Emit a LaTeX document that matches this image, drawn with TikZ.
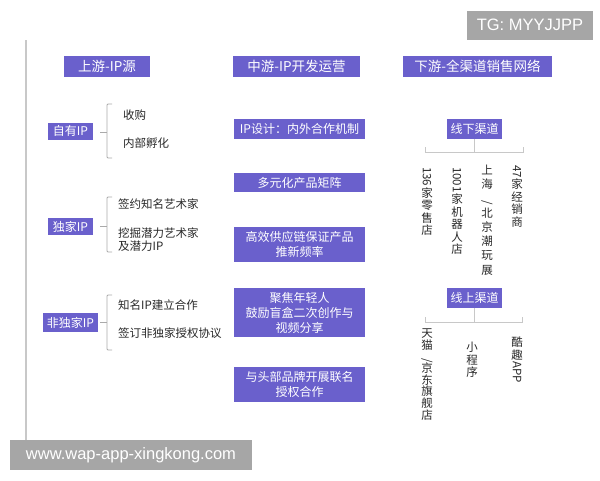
\documentclass[tikz,border=0pt]{standalone}
\usepackage{fontspec}
\setmainfont{Noto Sans CJK SC}
\newfontfamily\wmfont{Liberation Sans}
\definecolor{boxc}{RGB}{106,96,204}
\definecolor{wmgray}{RGB}{166,166,166}
\definecolor{linec}{RGB}{200,200,200}
\definecolor{brk}{RGB}{170,170,170}
\definecolor{txt}{RGB}{40,40,40}
\tikzset{
  pbox/.style={fill=boxc, text=white, inner sep=1pt, align=center,
    font=\fontsize{12}{15}\selectfont},
  hbox/.style={pbox, font=\fontsize{13.5}{15}\selectfont},
  item/.style={anchor=west, inner sep=0, text=txt, align=left,
    font=\fontsize{11.5}{13}\selectfont},
  vcol/.style={anchor=north, inner sep=0, text=txt, align=center,
    font=\fontsize{11.5}{12.5}\selectfont},
  brline/.style={draw=brk, line width=0.8pt},
  tline/.style={draw=linec, line width=0.9pt},
  wm/.style={fill=wmgray, text=white, inner sep=0, font=\wmfont\fontsize{16.5}{18}\selectfont}
}
\newsavebox{\rotbx}
\newcommand{\rb}[1]{\sbox{\rotbx}{\rotatebox{-90}{#1}}\raisebox{\dimexpr\dp\rotbx-1.5pt\relax}{\usebox{\rotbx}}}
\begin{document}
\begin{tikzpicture}[x=1pt,y=-1pt]
\useasboundingbox (0,0) rectangle (600,480);
\fill[white] (0,0) rectangle (600,480);
% left rule
\coordinate (rt) at (26,40);
\coordinate (rb) at (26,445);
\draw[draw=linec, line width=1.2pt] (rt) -- (rb);

% headers
\node[hbox, minimum width=86pt, minimum height=21pt] (h1) at (107,66.5) {上游-IP源};
\node[hbox, minimum width=127pt, minimum height=21pt] (h2) at (296.5,66.5) {中游-IP开发运营};
\node[hbox, minimum width=149pt, minimum height=21pt] (h3) at (477.5,66.5) {下游-全渠道销售网络};

% left column
\node[pbox, minimum width=45pt, minimum height=17pt] (zy) at (70.5,131) {自有IP};
\node[pbox, minimum width=45pt, minimum height=17pt] (dj) at (70.5,226.5) {独家IP};
\node[pbox, minimum width=55pt, minimum height=19pt] (fdj) at (70.5,322.5) {非独家IP};

\node[item] (a1) at (123,115) {收购};
\node[item] (a2) at (123,143) {内部孵化};
\node[item] (b1) at (118,204) {签约知名艺术家};
\node[item] (b2) at (118,240) {挖掘潜力艺术家\\及潜力IP};
\node[item] (c1) at (118,305) {知名IP建立合作};
\node[item] (c2) at (118,333) {签订非独家授权协议};

% brackets
\coordinate (zyb) at (107,132);
\draw[brline] ([xshift=7pt]zy.east |- zyb) -- (zyb);
\draw[brline, rounded corners=1pt] (112,104) -- (107,104) -- (107,158) -- (112,158);
\coordinate (djb) at (107,226);
\draw[brline] ([xshift=7pt]dj.east |- djb) -- (djb);
\draw[brline, rounded corners=1pt] (112,197) -- (107,197) -- (107,252) -- (112,252);
\coordinate (fdjb) at (107,322);
\draw[brline] ([xshift=2pt]fdj.east |- fdjb) -- (fdjb);
\draw[brline, rounded corners=1pt] (112,295) -- (107,295) -- (107,350) -- (112,350);

% middle column
\node[pbox, minimum width=131pt, minimum height=20pt] (m1) at (299.5,129) {IP设计：内外合作机制};
\node[pbox, minimum width=131pt, minimum height=19pt] (m2) at (299.5,182.5) {多元化产品矩阵};
\node[pbox, minimum width=131pt, minimum height=35pt] (m3) at (299.5,244.5) {高效供应链保证产品\\推新频率};
\node[pbox, minimum width=131pt, minimum height=49pt] (m4) at (299.5,312.5) {聚焦年轻人\\鼓励盲盒二次创作与\\视频分享};
\node[pbox, minimum width=131pt, minimum height=35pt] (m5) at (299.5,384.5) {与头部品牌开展联名\\授权合作};

% right column: offline
\node[pbox, minimum width=55pt, minimum height=20pt] (off) at (474.5,129) {线下渠道};
\coordinate (offj) at (474.5,152);
\coordinate (offl) at (425,152);
\coordinate (offr) at (523,152);
\draw[tline] (off.south) -- (offj);
\draw[tline] ([yshift=5pt]offl) -- (offl) -- (offr) -- ([yshift=5pt]offr);
\node[vcol] (o1) at (427,167) {\rb{136}\\家\\零\\售\\店};
\node[vcol] (o2) at (457,167) {\rb{1001}\\家\\机\\器\\人\\店};
\node[vcol, font=\fontsize{11.5}{14.2}\selectfont] (o3) at (487,165) {上\\海\\\rb{/}\\北\\京\\潮\\玩\\展};
\node[vcol] (o4) at (517,165) {\rb{47}\\家\\经\\销\\商};

% right column: online
\node[pbox, minimum width=55pt, minimum height=20pt] (on) at (474.5,298) {线上渠道};
\coordinate (onj) at (474.5,322);
\coordinate (onl) at (425,322);
\coordinate (onr) at (522,322);
\draw[tline] (on.south) -- (onj);
\draw[tline] ([yshift=5pt]onl) -- (onl) -- (onr) -- ([yshift=5pt]onr);
\node[vcol, font=\fontsize{11.5}{11.6}\selectfont] (p1) at (427,329) {天\\猫\\\rb{/}\\京\\东\\旗\\舰\\店};
\node[vcol] (p2) at (472,342) {小\\程\\序};
\node[vcol] (p3) at (517,337) {酷\\趣\\\rb{APP}};

% watermarks
\node[wm, minimum width=126pt, minimum height=29pt] (tg) at (530,25) {TG: MYYJJPP};
\node[wm, minimum width=242pt, minimum height=30pt] (url) at (131,455) {www.wap-app-xingkong.com};
\end{tikzpicture}
\end{document}
